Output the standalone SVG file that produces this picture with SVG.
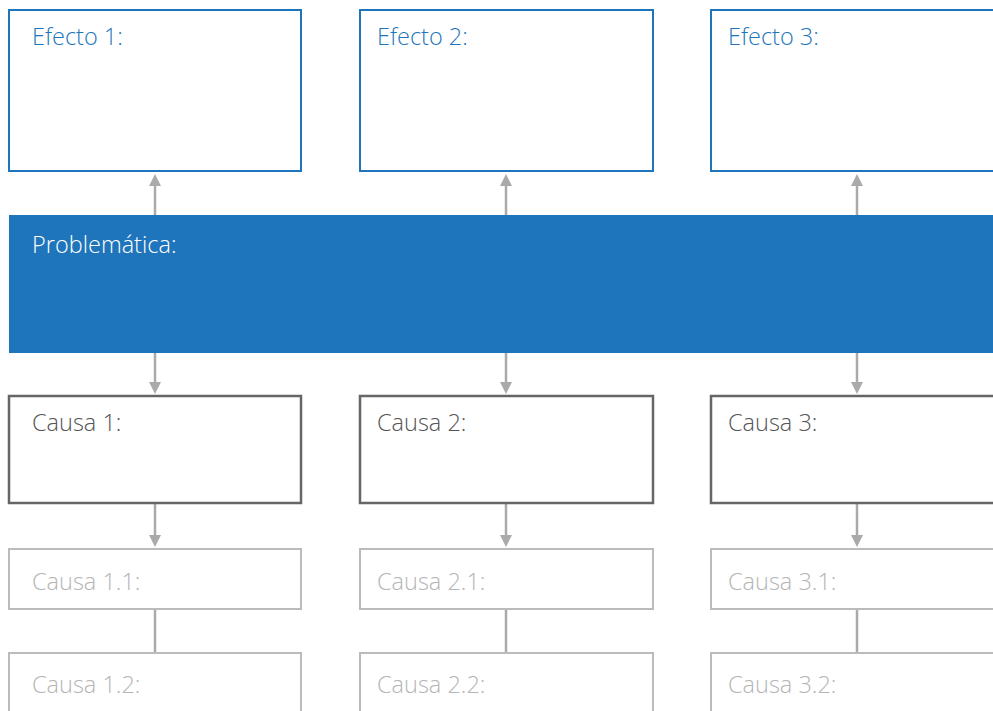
<svg xmlns="http://www.w3.org/2000/svg" width="993" height="711" viewBox="0 0 993 711">
<defs>
<marker id="ah" markerWidth="12" markerHeight="12" refX="6" refY="6" orient="auto" markerUnits="userSpaceOnUse" viewBox="0 0 12 12">
<path d="M0,0 L12,6 L0,12 z" fill="#aaaaaa"/>
</marker>
<style>
.t{font-family:"Open Sans","Liberation Sans",sans-serif;font-weight:300;font-size:23.5px}
.eff{fill:#fff;stroke:#1f75bb;stroke-width:2}
.efft{fill:#1f75bb}
.cau{fill:#fff;stroke:#666;stroke-width:2.5}
.caut{fill:#555}
.sub{fill:#fff;stroke:#bbb;stroke-width:2}
.subt{fill:#b5b5b5}
.con{stroke:#aaaaaa;stroke-width:2.5;fill:none}
</style>
</defs>
<rect width="993" height="711" fill="#fff"/>
<g id="connectors">
<line class="con" x1="155" y1="215" x2="155" y2="180" marker-end="url(#ah)"/>
<line class="con" x1="506" y1="215" x2="506" y2="180" marker-end="url(#ah)"/>
<line class="con" x1="857" y1="215" x2="857" y2="180" marker-end="url(#ah)"/>
<line class="con" x1="155" y1="353" x2="155" y2="388" marker-end="url(#ah)"/>
<line class="con" x1="506" y1="353" x2="506" y2="388" marker-end="url(#ah)"/>
<line class="con" x1="857" y1="353" x2="857" y2="388" marker-end="url(#ah)"/>
<line class="con" x1="155" y1="504" x2="155" y2="541" marker-end="url(#ah)"/>
<line class="con" x1="506" y1="504" x2="506" y2="541" marker-end="url(#ah)"/>
<line class="con" x1="857" y1="504" x2="857" y2="541" marker-end="url(#ah)"/>
<line class="con" x1="155" y1="609" x2="155" y2="653"/>
<line class="con" x1="506" y1="609" x2="506" y2="653"/>
<line class="con" x1="857" y1="609" x2="857" y2="653"/>
</g>
<g id="efecto1"><rect class="eff" x="9" y="10" width="292" height="161"/><text class="t efft" x="32" y="45">Efecto 1:</text></g>
<g id="efecto2"><rect class="eff" x="360" y="10" width="293" height="161"/><text class="t efft" x="377" y="45">Efecto 2:</text></g>
<g id="efecto3"><rect class="eff" x="711" y="10" width="293" height="161"/><text class="t efft" x="728" y="45">Efecto 3:</text></g>
<g id="problematica"><rect x="9" y="215" width="990" height="138" fill="#1f75bb"/><text class="t" fill="#fff" x="32" y="253">Problemática:</text></g>
<g id="causa1"><rect class="cau" x="9" y="396" width="292" height="107"/><text class="t caut" x="32" y="431">Causa 1:</text></g>
<g id="causa2"><rect class="cau" x="360" y="396" width="293" height="107"/><text class="t caut" x="377" y="431">Causa 2:</text></g>
<g id="causa3"><rect class="cau" x="711" y="396" width="293" height="107"/><text class="t caut" x="728" y="431">Causa 3:</text></g>
<g id="causa11"><rect class="sub" x="9" y="549" width="292" height="60"/><text class="t subt" x="32" y="590">Causa 1.1:</text></g>
<g id="causa21"><rect class="sub" x="360" y="549" width="293" height="60"/><text class="t subt" x="377" y="590">Causa 2.1:</text></g>
<g id="causa31"><rect class="sub" x="711" y="549" width="293" height="60"/><text class="t subt" x="728" y="590">Causa 3.1:</text></g>
<g id="causa12"><rect class="sub" x="9" y="653" width="292" height="70"/><text class="t subt" x="32" y="693">Causa 1.2:</text></g>
<g id="causa22"><rect class="sub" x="360" y="653" width="293" height="70"/><text class="t subt" x="377" y="693">Causa 2.2:</text></g>
<g id="causa32"><rect class="sub" x="711" y="653" width="293" height="70"/><text class="t subt" x="728" y="693">Causa 3.2:</text></g>
</svg>
